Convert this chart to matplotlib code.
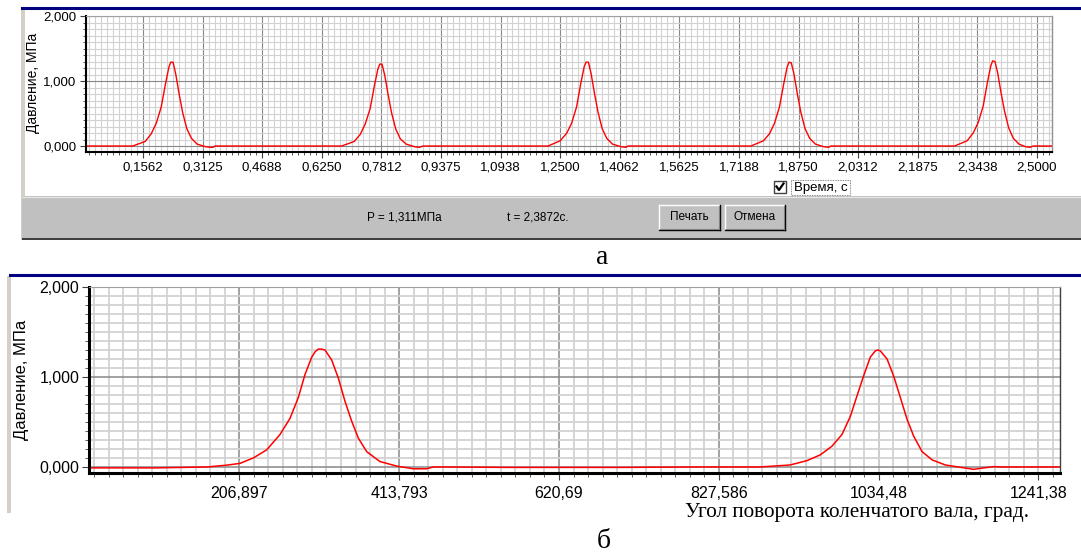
import numpy as np
import matplotlib
matplotlib.use('Agg')
import matplotlib.pyplot as plt
from matplotlib.patches import Rectangle
from matplotlib.ticker import FixedLocator, MultipleLocator

W, H = 1081, 555

# --- panel a: pressure vs time ---
t_a = [0.007, 0.129, 0.162, 0.178, 0.191, 0.204, 0.215, 0.224, 0.229, 0.235, 0.242, 0.251,
       0.260, 0.271, 0.283, 0.298, 0.320, 0.333, 0.340, 0.345,
       0.677, 0.710, 0.726, 0.739, 0.752, 0.763, 0.772, 0.777, 0.783, 0.790, 0.799,
       0.808, 0.819, 0.831, 0.846, 0.868, 0.881, 0.890,
       1.218, 1.250, 1.267, 1.280, 1.293, 1.304, 1.313, 1.318, 1.324, 1.331, 1.340,
       1.349, 1.360, 1.372, 1.387, 1.409, 1.422, 1.428,
       1.750, 1.783, 1.799, 1.812, 1.825, 1.836, 1.845, 1.850, 1.856, 1.863, 1.872,
       1.881, 1.892, 1.904, 1.919, 1.941, 1.954, 1.960,
       2.284, 2.317, 2.333, 2.346, 2.359, 2.370, 2.379, 2.384, 2.390, 2.397, 2.406,
       2.415, 2.426, 2.438, 2.453, 2.470, 2.482, 2.490, 2.539]
p_a = [0.0, 0.0, 0.07, 0.19, 0.35, 0.60, 0.95, 1.21, 1.29, 1.29, 1.11, 0.80,
       0.52, 0.27, 0.12, 0.03, -0.01, -0.02, -0.02, 0.0,
       0.0, 0.07, 0.18, 0.34, 0.58, 0.93, 1.18, 1.26, 1.26, 1.09, 0.79,
       0.51, 0.26, 0.11, 0.03, -0.01, -0.02, 0.0,
       0.0, 0.08, 0.195, 0.35, 0.60, 0.96, 1.22, 1.29, 1.29, 1.12, 0.81,
       0.53, 0.27, 0.12, 0.03, -0.01, -0.02, 0.0,
       0.0, 0.08, 0.19, 0.35, 0.60, 0.95, 1.21, 1.29, 1.28, 1.11, 0.80,
       0.52, 0.27, 0.12, 0.03, -0.01, -0.02, 0.0,
       0.0, 0.08, 0.20, 0.36, 0.61, 0.97, 1.23, 1.31, 1.30, 1.13, 0.82,
       0.54, 0.28, 0.12, 0.03, -0.01, -0.02, 0.0, 0.0]
time_ticks = [0.15625, 0.3125, 0.46875, 0.625, 0.78125, 0.9375, 1.09375, 1.25,
              1.40625, 1.5625, 1.71875, 1.875, 2.03125, 2.1875, 2.34375, 2.5]
time_labels = ['0,1562', '0,3125', '0,4688', '0,6250', '0,7812', '0,9375', '1,0938', '1,2500',
               '1,4062', '1,5625', '1,7188', '1,8750', '2,0312', '2,1875', '2,3438', '2,5000']

# --- panel b: pressure vs crank angle ---
ang_b = [13, 100, 165, 190.5, 207.8, 225, 242.3, 259.5, 272.5, 283.2, 292, 300.6, 305, 309.1,
         313.5, 317.8, 326.4, 335, 343.7, 352.3, 361, 371.8, 389, 410.6, 432, 449.5, 458, 475,
         560, 700, 800, 881, 919.8, 941.6, 958.9, 974, 987, 997.8, 1006.5, 1015, 1023.7,
         1030.2, 1033.5, 1036.7, 1045.4, 1054, 1062.7, 1071.3, 1080, 1090.8, 1103.8, 1121,
         1140.5, 1157.7, 1170.7, 1183.7, 1192, 1268]
p_b = [-0.01, -0.01, 0.0, 0.02, 0.04, 0.10, 0.19, 0.36, 0.54, 0.77, 1.03, 1.22, 1.28, 1.31,
       1.31, 1.30, 1.19, 0.99, 0.73, 0.51, 0.32, 0.17, 0.06, 0.01, -0.02, -0.02, 0.0, 0.0,
       -0.005, -0.005, 0.0, 0.0, 0.022, 0.07, 0.134, 0.23, 0.36, 0.56, 0.79, 1.01, 1.22,
       1.29, 1.30, 1.29, 1.20, 1.01, 0.77, 0.53, 0.34, 0.17, 0.078, 0.022,
       -0.004, -0.026, -0.01, 0.004, 0.0, 0.0]
angle_ticks = [206.897, 413.793, 620.69, 827.586, 1034.48, 1241.38]
angle_labels = ['206,897', '413,793', '620,69', '827,586', '1034,48', '1241,38']

p_ticks = [0, 1, 2]
p_labels = ['0,000', '1,000', '2,000']

UI = 'Liberation Sans'
SERIF = 'Liberation Serif'


def box(l, t, r, b):
    return [l / W, 1 - b / H, (r - l) / W, (b - t) / H]


fig = plt.figure(figsize=(W / 100, H / 100), dpi=100)

# window chrome drawn in pixel coordinates
bg = fig.add_axes([0, 0, 1, 1])
bg.set_xlim(0, W)
bg.set_ylim(H, 0)
bg.axis('off')

# top window
bg.add_patch(Rectangle((21, 9), 4, 231, fc='#d4d0c8', ec='none'))
bg.plot([22, W], [8, 8], color='#000080', lw=2.2)
bg.add_patch(Rectangle((22, 196), W - 22, 42, fc='#c0c0c0', ec='none'))
bg.plot([22, W], [196.5, 196.5], color='#e8e8e8', lw=0.8)
bg.add_patch(Rectangle((22, 238), W - 22, 2, fc='#404040', ec='none'))

bg.text(367, 218, 'P = 1,311МПа', fontsize=8.5, family=UI, va='center', ha='left')
bg.text(507, 218, 't = 2,3872с.', fontsize=8.5, family=UI, va='center', ha='left')


def button(x0, x1, y0, y1, label):
    bg.add_patch(Rectangle((x0, y0), x1 - x0, y1 - y0, fc='#c0c0c0', ec='none'))
    bg.plot([x0, x1], [y0, y0], color='white', lw=1)
    bg.plot([x0, x0], [y0, y1], color='white', lw=1)
    bg.plot([x0, x1], [y1, y1], color='black', lw=1)
    bg.plot([x1, x1], [y0, y1], color='black', lw=1)
    bg.plot([x0 + 1, x1 - 1], [y1 - 1.2, y1 - 1.2], color='#808080', lw=0.8)
    bg.plot([x1 - 1.2, x1 - 1.2], [y0 + 1, y1 - 1], color='#808080', lw=0.8)
    bg.text((x0 + x1) / 2, (y0 + y1) / 2, label, fontsize=8.5, family=UI,
            ha='center', va='center')


button(659, 720, 205, 230, 'Печать')
button(725, 785, 205, 230, 'Отмена')

# checkbox with focus rectangle
bg.add_patch(Rectangle((774, 181), 12, 12, fc='white', ec='#404040', lw=1))
bg.plot([776.5, 779, 783.5], [186.5, 190, 183.5], color='black', lw=1.6)
bg.add_patch(Rectangle((791, 180), 59, 15, fc='none', ec='#606060', lw=0.6, ls=(0, (1, 1))))
bg.text(794, 187.5, 'Время, с', fontsize=9.5, family=UI, ha='left', va='center')

bg.text(602, 258, 'а', fontsize=20, family=SERIF, ha='center', va='center')

# bottom window
bg.plot([10, W], [275, 275], color='#000080', lw=2.2)
bg.add_patch(Rectangle((7, 276), 4, 237, fc='#d4d0c8', ec='none'))
bg.text(604, 541, 'б', fontsize=20, family=SERIF, ha='center', va='center')


def style(ax, lw_axis, col_right, size, lw_minor, lw_major):
    ax.set_facecolor('white')
    ax.set_axisbelow(True)
    ax.yaxis.set_major_locator(FixedLocator(p_ticks))
    ax.set_yticklabels(p_labels)
    ax.yaxis.set_minor_locator(MultipleLocator(0.1))
    ax.grid(which='minor', color='#d2d2d2', lw=lw_minor)
    ax.grid(which='major', color='#888888', lw=lw_major)
    for s in ['left', 'bottom']:
        ax.spines[s].set_color('black')
        ax.spines[s].set_linewidth(lw_axis)
    ax.spines['top'].set_color('#a0a0a0')
    ax.spines['top'].set_linewidth(0.8)
    ax.spines['right'].set_color(col_right)
    ax.spines['right'].set_linewidth(1.0)
    for lab in ax.get_xticklabels() + ax.get_yticklabels():
        lab.set_family(UI)
        lab.set_fontsize(size)


# panel a axes
ax1 = fig.add_axes(box(86, 16, 1052, 152))
ax1.set_zorder(2)
ax1.plot(t_a, p_a, color='#ff0000', lw=1.0)
ax1.set_xlim(0.0068, 2.5396)
ax1.set_ylim(-0.092, 2.0)
ax1.xaxis.set_major_locator(FixedLocator(time_ticks))
ax1.set_xticklabels(time_labels)
ax1.xaxis.set_minor_locator(MultipleLocator(0.015625))
style(ax1, 1.5, '#909090', 9.5, 0.8, 0.8)
ax1.tick_params(which='major', length=4, width=0.8, pad=3, color='#404040')
ax1.tick_params(which='minor', length=2, width=0.6, color='#404040')
fig.text(33 / W, 1 - 83 / H, 'Давление, МПа', rotation=90, fontsize=10, family=UI,
         ha='center', va='center')

# panel b axes
ax2 = fig.add_axes(box(89, 287, 1060, 473))
ax2.set_zorder(2)
ax2.plot(ang_b, p_b, color='#ff0000', lw=1.1)
ax2.set_xlim(12.3, 1269.3)
ax2.set_ylim(-0.067, 2.0)
ax2.xaxis.set_major_locator(FixedLocator(angle_ticks))
ax2.set_xticklabels(angle_labels)
ax2.xaxis.set_minor_locator(MultipleLocator(18.809))
style(ax2, 2.2, '#404040', 11.5, 1.3, 1.1)
ax2.tick_params(which='major', length=5, width=0.8, pad=4, color='#404040')
ax2.tick_params(which='minor', length=3, width=0.6, color='#404040')
ax2.tick_params(axis='y', which='major', pad=2)
fig.text(21.5 / W, 1 - 380 / H, 'Давление, МПа', rotation=90, fontsize=12, family=UI,
         ha='center', va='center')
fig.text(1029 / W, 1 - 517 / H, 'Угол поворота коленчатого вала, град.', fontsize=15.3,
         family=SERIF, ha='right', va='baseline')

fig.savefig('out.png', dpi=100)
